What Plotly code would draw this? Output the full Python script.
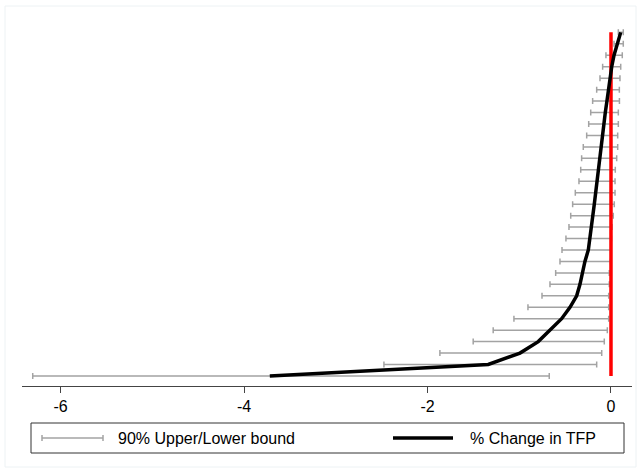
import plotly.graph_objects as go

# Rows listed from top (rank 31) to bottom (rank 1)
rank = list(range(31, 0, -1))

tfp_change = [0.106, 0.069, 0.033, 0.008, -0.012, -0.025, -0.044, -0.062, -0.076, -0.091,
              -0.102, -0.120, -0.139, -0.150, -0.167, -0.182, -0.196, -0.210, -0.229, -0.247,
              -0.284, -0.309, -0.338, -0.374, -0.447, -0.538, -0.665, -0.793, -0.992, -1.338,
              -3.719]

lower_bound = [0.080, 0.033, -0.055, -0.091, -0.120, -0.156, -0.200, -0.221, -0.243, -0.265,
               -0.302, -0.320, -0.330, -0.349, -0.389, -0.418, -0.439, -0.458, -0.491, -0.534,
               -0.556, -0.603, -0.665, -0.752, -0.905, -1.058, -1.284, -1.502, -1.865, -2.475,
               -6.303]

upper_bound = [0.134, 0.134, 0.123, 0.106, 0.098, 0.091, 0.092, 0.080, 0.080, 0.073,
               0.073, 0.062, 0.047, 0.044, 0.044, 0.036, 0.025, 0.011, 0.005, 0.000,
               -0.005, -0.019, -0.019, -0.025, -0.025, -0.025, -0.040, -0.073, -0.101, -0.156,
               -0.673]

x_ticks = [-6, -4, -2, 0]
x_tick_labels = ["-6", "-4", "-2", "0"]
legend_labels = ["90% Upper/Lower bound", "% Change in TFP"]

GRAY = "#a3a3a3"
FONT = "Liberation Sans, Arial, sans-serif"

plus = [u - e for u, e in zip(upper_bound, tfp_change)]
minus = [e - l for e, l in zip(tfp_change, lower_bound)]

fig = go.Figure()

# 90% bounds as horizontal error bars
fig.add_trace(go.Scatter(
    x=tfp_change, y=rank, mode="markers",
    marker=dict(size=1, opacity=0),
    error_x=dict(type="data", symmetric=False, array=plus, arrayminus=minus,
                 color=GRAY, thickness=1.5, width=3),
    showlegend=False, hoverinfo="skip"))

# Red zero line spanning the rows
fig.add_trace(go.Scatter(
    x=[0, 0], y=[min(rank), max(rank)], mode="lines",
    line=dict(color="#ff0000", width=3.5), showlegend=False))

# % change in TFP
fig.add_trace(go.Scatter(
    x=tfp_change, y=rank, mode="lines",
    line=dict(color="black", width=3.5), showlegend=False))

W, H = 641, 472
L, R, T, B = 22, 9, 20, 86
pw, ph = W - L - R, H - T - B

def px(x):
    return (x - L) / pw

def py(y):
    return (H - B - y) / ph

shapes = []
annotations = []
# outer faint frame
shapes.append(dict(type="rect", xref="paper", yref="paper",
                   x0=px(5), x1=px(636), y0=py(6), y1=py(467),
                   line=dict(color="#edf2f4", width=1)))
# legend box
shapes.append(dict(type="rect", xref="paper", yref="paper",
                   x0=px(31), x1=px(624), y0=py(423), y1=py(453),
                   line=dict(color="#333333", width=1)))
# legend symbol 1: gray range bar with caps
ly = 438
shapes.append(dict(type="line", xref="paper", yref="paper",
                   x0=px(42), x1=px(103), y0=py(ly), y1=py(ly),
                   line=dict(color=GRAY, width=1.5)))
for cx in (42, 103):
    shapes.append(dict(type="line", xref="paper", yref="paper",
                       x0=px(cx), x1=px(cx), y0=py(ly - 3), y1=py(ly + 3),
                       line=dict(color=GRAY, width=1.5)))
# legend symbol 2: thick black line
shapes.append(dict(type="line", xref="paper", yref="paper",
                   x0=px(393), x1=px(453), y0=py(ly), y1=py(ly),
                   line=dict(color="black", width=3.5)))
annotations.append(dict(x=px(116), y=py(ly), xref="paper", yref="paper",
                        text=legend_labels[0], showarrow=False,
                        xanchor="left", yanchor="middle",
                        font=dict(family=FONT, size=16, color="black")))
annotations.append(dict(x=px(468), y=py(ly), xref="paper", yref="paper",
                        text=legend_labels[1], showarrow=False,
                        xanchor="left", yanchor="middle",
                        font=dict(family=FONT, size=16, color="black")))

fig.update_layout(
    width=W, height=H,
    margin=dict(l=L, r=R, t=T, b=B, pad=0),
    paper_bgcolor="white", plot_bgcolor="white",
    showlegend=False,
    font=dict(family=FONT, size=16, color="black"),
    xaxis=dict(range=[-6.42, 0.229], tickvals=x_ticks, ticktext=x_tick_labels,
               showgrid=False, zeroline=False, showline=True, linecolor="#444444",
               linewidth=1, ticks="outside", ticklen=6, tickcolor="#444444",
               tickfont=dict(family=FONT, size=16, color="black"), fixedrange=True),
    yaxis=dict(range=[0.125, 32.08], showgrid=False, zeroline=False, showline=False,
               showticklabels=False, ticks="", fixedrange=True),
    shapes=shapes, annotations=annotations,
)

fig.write_html("out.html", config={"displayModeBar": False},
               post_script="document.body.style.margin='0';")
